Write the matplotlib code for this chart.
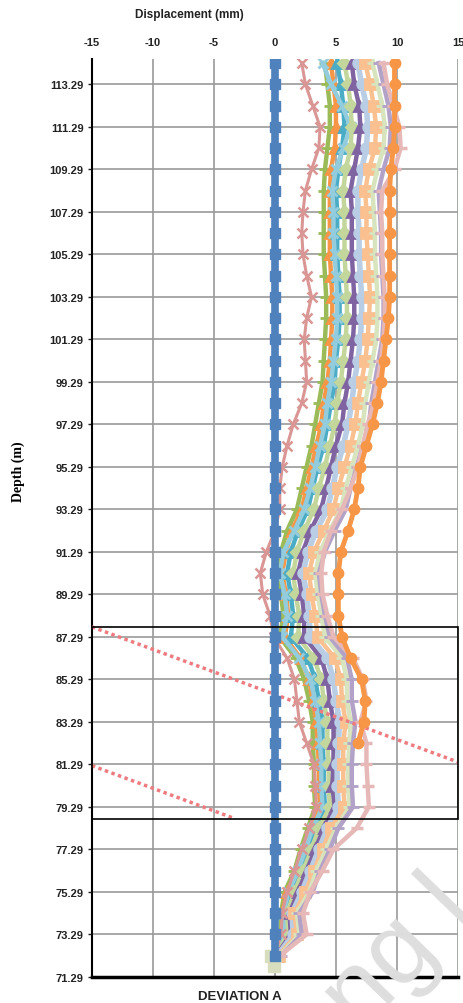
import numpy as np
import matplotlib
matplotlib.use("Agg")
import matplotlib.pyplot as plt
from matplotlib.patches import Rectangle

plt.rcParams["font.family"] = ["Liberation Sans", "DejaVu Sans"]

# ---- data (displacement in mm, 1 m depth steps) ----
DEPTH = [114.29, 113.29, 112.29, 111.29, 110.29, 109.29, 108.29, 107.29, 106.29, 105.29,
         104.29, 103.29, 102.29, 101.29, 100.29, 99.29, 98.29, 97.29, 96.29, 95.29,
         94.29, 93.29, 92.29, 91.29, 90.29, 89.29, 88.29, 87.29, 86.29, 85.29,
         84.29, 83.29, 82.29, 81.29, 80.29, 79.29, 78.29, 77.29, 76.29, 75.29,
         74.29, 73.29, 72.29]

INITIAL = [0.0] * 43

READ_ROSE = [2.2, 2.5, 3.1, 3.7, 3.6, 3.0, 2.5, 2.3, 2.2, 2.3,
             2.6, 3.0, 2.6, 2.4, 2.5, 2.6, 2.2, 1.5, 1.0, 0.6,
             0.4, 0.4, 0.0, -0.7, -1.2, -1.0, -0.4, -0.1, 1.0, 1.6,
             1.8, 2.0, 2.6, 3.2, 3.3, 3.4, 2.8, 2.2, 1.6, 1.0,
             0.6, 0.5, 0.0]

READ_ORANGE = [9.8, 9.8, 9.8, 9.8, 9.7, 9.5, 9.4, 9.4, 9.4, 9.4,
               9.4, 9.4, 9.3, 9.1, 8.9, 8.7, 8.4, 8.0, 7.5, 7.0,
               6.8, 6.5, 6.0, 5.4, 5.2, 5.2, 5.2, 5.5, 6.2, 7.1,
               7.4, 7.3, 6.8] + [np.nan] * 10

READ_PINK = [8.9, 9.2, 9.7, 10.2, 10.3, 9.8, 8.8, 8.7, 8.8, 8.8,
             8.9, 9.0, 9.0, 8.9, 8.7, 8.4, 8.1, 7.6, 7.2, 6.8,
             6.2, 5.5, 4.6, 4.0, 3.8, 3.9, 4.3, 4.8, 6.4, 7.2,
             7.5, 7.0, 7.5, 7.5, 7.6, 7.7, 6.7, 4.8, 3.9, 2.9,
             2.3, 2.6, 0.4]

READ_A = [4.1, 4.3, 4.5, 4.5, 4.3, 4.1, 4.0, 4.0, 4.0, 4.0,
          4.1, 4.2, 4.2, 4.1, 4.0, 3.9, 3.6, 3.3, 3.0, 2.6,
          2.2, 1.8, 1.0, 0.5, 0.2, 0.5, 0.7, 0.4, 1.7, 2.4,
          2.8, 3.1, 3.1, 3.2, 3.2, 3.3, 2.7, 2.1, 1.6, 0.8,
          0.5, 0.5, -0.3]
READ_B = [4.6, 4.8, 5.0, 5.0, 4.9, 4.6, 4.5, 4.5, 4.5, 4.5,
          4.6, 4.7, 4.7, 4.6, 4.5, 4.3, 4.0, 3.8, 3.4, 3.0,
          2.6, 2.2, 1.4, 0.9, 0.6, 0.9, 1.1, 0.8, 2.1, 2.8,
          3.1, 3.4, 3.5, 3.6, 3.6, 3.7, 3.0, 2.4, 1.8, 1.0,
          0.6, 0.7, -0.2]
READ_C = [5.1, 5.4, 5.6, 5.7, 5.5, 5.2, 5.0, 5.1, 5.1, 5.1,
          5.2, 5.3, 5.3, 5.2, 5.0, 4.9, 4.6, 4.3, 4.0, 3.5,
          3.1, 2.7, 1.9, 1.3, 1.0, 1.3, 1.5, 1.3, 2.7, 3.3,
          3.6, 3.9, 3.9, 4.0, 4.0, 4.1, 3.3, 2.7, 2.1, 1.3,
          0.8, 0.9, -0.1]
READ_D = [3.9, 4.6, 5.5, 6.2, 5.6, 5.0, 4.7, 4.8, 4.8, 4.9,
          5.0, 5.1, 5.1, 5.0, 4.8, 4.6, 4.3, 4.1, 3.7, 3.3,
          2.9, 2.4, 1.6, 0.7, 0.4, 0.8, 1.0, 0.6, 2.0, 2.9,
          3.3, 3.6, 3.7, 3.8, 3.8, 3.9, 3.1, 2.5, 1.9, 1.1,
          0.7, 0.8, -0.2]
READ_E = [5.7, 6.0, 6.2, 6.3, 6.2, 5.8, 5.6, 5.7, 5.7, 5.7,
          5.8, 5.9, 5.9, 5.8, 5.6, 5.4, 5.1, 4.9, 4.5, 4.1,
          3.6, 3.2, 2.4, 1.8, 1.5, 1.7, 2.0, 1.9, 3.2, 3.8,
          4.0, 4.3, 4.3, 4.4, 4.4, 4.5, 3.6, 3.0, 2.3, 1.6,
          1.0, 1.1, 0.0]
READ_F = [6.3, 6.5, 6.9, 7.0, 6.8, 6.5, 6.2, 6.3, 6.3, 6.3,
          6.4, 6.5, 6.5, 6.4, 6.2, 6.0, 5.7, 5.5, 5.0, 4.6,
          4.2, 3.8, 2.9, 2.3, 1.9, 2.2, 2.4, 2.4, 3.8, 4.3,
          4.5, 4.8, 4.8, 4.8, 4.7, 4.9, 4.0, 3.3, 2.6, 1.9,
          1.2, 1.3, 0.1]
READ_H = [6.8, 7.1, 7.5, 7.6, 7.5, 7.1, 6.8, 6.8, 6.9, 6.9,
          7.0, 7.1, 7.1, 7.0, 6.8, 6.5, 6.3, 6.0, 5.6, 5.1,
          4.7, 4.3, 3.4, 2.7, 2.3, 2.6, 2.8, 2.9, 4.3, 4.8,
          5.0, 5.3, 5.2, 5.1, 5.1, 5.2, 4.3, 3.6, 2.9, 2.2,
          1.4, 1.5, 0.2]
READ_I = [7.4, 7.8, 8.1, 8.3, 8.2, 7.7, 7.4, 7.5, 7.5, 7.6,
          7.7, 7.8, 7.7, 7.6, 7.4, 7.1, 6.8, 6.6, 6.2, 5.7,
          5.2, 4.8, 4.0, 3.2, 2.8, 3.0, 3.3, 3.5, 4.9, 5.4,
          5.5, 5.8, 5.6, 5.6, 5.6, 5.7, 4.6, 3.9, 3.2, 2.5,
          1.6, 1.8, 0.3]
READ_J = [8.0, 8.4, 8.8, 9.0, 8.9, 8.4, 8.0, 8.1, 8.2, 8.2,
          8.3, 8.4, 8.4, 8.3, 8.0, 7.7, 7.4, 7.2, 6.8, 6.3,
          5.8, 5.4, 4.5, 3.7, 3.3, 3.5, 3.8, 4.1, 5.5, 5.9,
          5.9, 6.2, 6.1, 6.0, 6.0, 6.1, 5.0, 4.2, 3.4, 2.8,
          1.8, 2.0, 0.4]
READ_K = [8.5, 8.9, 9.3, 9.5, 9.4, 8.9, 8.5, 8.6, 8.7, 8.7,
          8.8, 8.9, 8.9, 8.8, 8.5, 8.2, 7.9, 7.7, 7.2, 6.7,
          6.2, 5.8, 4.9, 4.1, 3.6, 3.8, 4.1, 4.5, 5.9, 6.3,
          6.3, 6.6, 6.4, 6.3, 6.3, 6.4, 5.2, 4.5, 3.7, 3.1,
          2.0, 2.2, 0.5]

# two deepest readings below the initial profile
BOTTOM_X = [-0.3, -0.1]
BOTTOM_DEPTH = [72.29, 71.79]

# dotted slip-surface guide lines and the marked zone
SLIP1_X = [-15, 15]
SLIP1_DEPTH = [87.76, 81.40]
SLIP2_X = [-15, -3.44]
SLIP2_DEPTH = [81.23, 78.77]
ZONE_TOP = 87.76
ZONE_BOTTOM = 78.73

XTICKS = [-15, -10, -5, 0, 5, 10, 15]
YTICKS = [71.29, 73.29, 75.29, 77.29, 79.29, 81.29, 83.29, 85.29, 87.29, 89.29, 91.29,
          93.29, 95.29, 97.29, 99.29, 101.29, 103.29, 105.29, 107.29, 109.29, 111.29, 113.29]

# (values, colour, marker, marker size, line width) for the middle readings
MIDDLE = [
    (READ_A, "#9BBB59", "_", 8, 3.2),
    (READ_B, "#F79646", "^", 7, 3.2),
    (READ_C, "#4BACC6", "^", 7, 3.2),
    (READ_D, "#93CDDD", "x", 7, 3.2),
    (READ_E, "#C3D69B", "D", 6, 3.2),
    (READ_F, "#8064A2", "^", 7, 3.2),
    (READ_H, "#B9CDE5", "o", 7, 4.0),
    (READ_I, "#FAC090", "s", 7, 3.2),
    (READ_J, "#D7E4BD", "+", 8, 3.2),
    (READ_K, "#B3A2C7", "_", 8, 3.2),
]

fig = plt.figure(figsize=(4.64, 10.04), dpi=100)
ax = fig.add_axes([0.198, 0.026, 0.789, 0.914])

for vals, col, mk, ms, lw in MIDDLE:
    ax.plot(vals, DEPTH, color=col, marker=mk, ms=ms, lw=lw, mew=2, zorder=3)

ax.plot(READ_PINK, DEPTH, color="#E6B9B8", marker="_", ms=9, mew=2.5, lw=3.2, zorder=4)
ax.plot(READ_ROSE, DEPTH, color="#D99694", marker="x", ms=7, mew=1.8, lw=2.2, zorder=5)
ax.plot(READ_ORANGE, DEPTH, color="#F79646", marker="o", ms=7.5, lw=3.5, zorder=5)
ax.plot(BOTTOM_X, BOTTOM_DEPTH, color="#D8DDBE", marker="s", ms=8, lw=3, zorder=5)
ax.plot(INITIAL, DEPTH, color="#4F81BD", marker="s", ms=7.5, lw=5.5, zorder=6)

ax.plot(SLIP1_X, SLIP1_DEPTH, color="#EE7B7F", ls=(0, (1, 1)), lw=2.5, zorder=4, clip_on=False)
ax.plot(SLIP2_X, SLIP2_DEPTH, color="#EE7B7F", ls=(0, (1, 1)), lw=2.5, zorder=4, clip_on=False)
ax.add_patch(Rectangle((-15, ZONE_BOTTOM), 30, ZONE_TOP - ZONE_BOTTOM, fill=False,
                       edgecolor="black", lw=1.2, zorder=7, clip_on=False))

ax.set_xlim(-15, 15)
ax.set_ylim(71.29, 114.47)
ax.set_xticks(XTICKS)
ax.set_xticklabels([str(v) for v in XTICKS])
ax.set_yticks(YTICKS)
ax.set_yticklabels([f"{v:.2f}" for v in YTICKS])
ax.xaxis.tick_top()
ax.tick_params(axis="x", length=0, pad=9, labelsize=8, colors="#222222")
ax.tick_params(axis="y", length=3, width=1, direction="out", pad=3, labelsize=8, colors="#222222")
for lab in ax.get_xticklabels() + ax.get_yticklabels():
    lab.set_fontweight("bold")

ax.grid(True, color="#9a9a9a", lw=1.2, zorder=0)
ax.set_axisbelow(True)
ax.spines["top"].set_visible(False)
ax.spines["right"].set_visible(False)
ax.spines["left"].set_linewidth(1.5)
ax.spines["bottom"].set_linewidth(2.5)
ax.spines["bottom"].set_zorder(8)

fig.text(0.291, 0.985, "Displacement (mm)", fontsize=8.5, fontweight="bold",
         ha="left", va="center", color="#222222")
fig.text(0.039, 0.530, "Depth (m)", family=["Liberation Serif", "DejaVu Serif"],
         fontsize=10, fontweight="bold", rotation=90, ha="center", va="center")
fig.text(0.427, 0.007, "DEVIATION A", fontsize=9.5, fontweight="bold",
         ha="left", va="center", color="#222222")

# faint watermark, cut by the lower right corner as in the source image
fig.text(0.776, -0.031, "ng l", fontsize=75, color="#dedede", rotation=46,
         rotation_mode="anchor", ha="left", va="baseline", zorder=0)

fig.savefig("out.png", dpi=100)
